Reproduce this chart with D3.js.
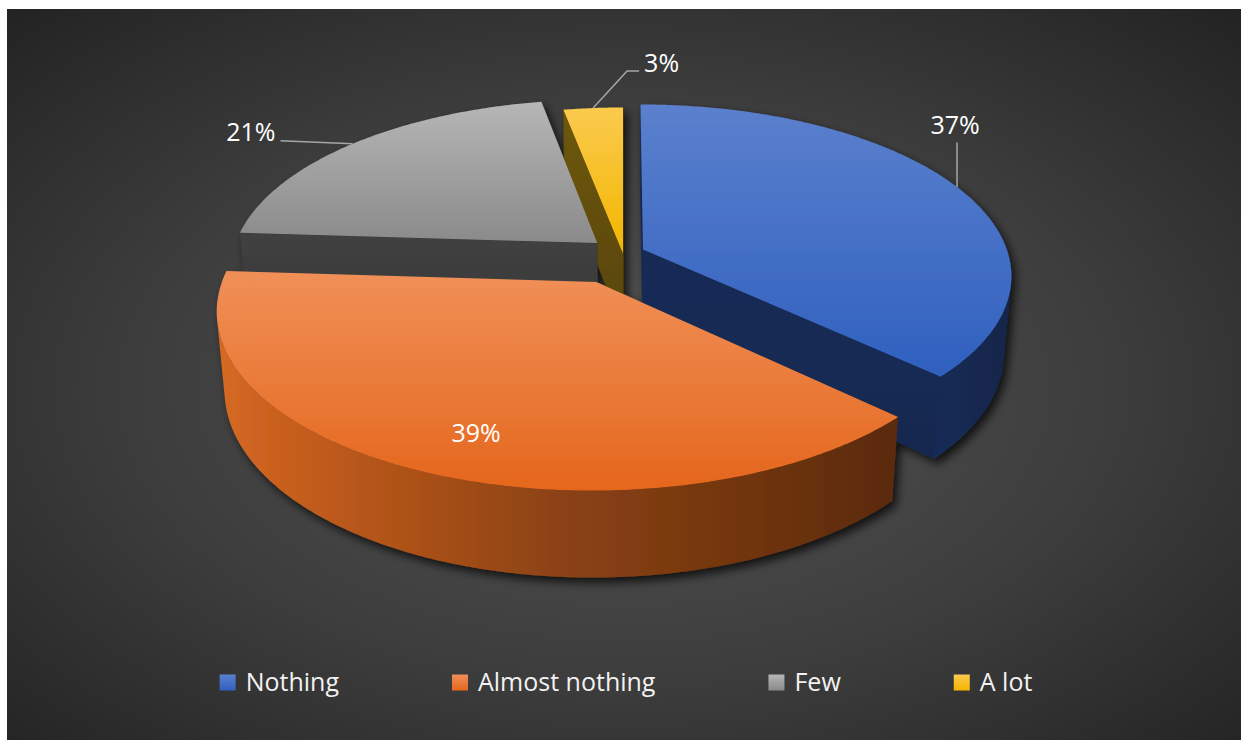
<!DOCTYPE html>
<html><head><meta charset="utf-8">
<script src="https://cdn.jsdelivr.net/npm/d3@7"></script>
<style>html,body{margin:0;padding:0;background:#fff;} svg{display:block;}</style>
</head><body>
<svg id="chart" width="1241" height="740"></svg>
<script>
// ---------- data ----------
const categories = ["Nothing", "Almost nothing", "Few", "A lot"];
const values = [37, 39, 21, 3];
const percentLabels = ["37%", "39%", "21%", "3%"];

// ---------- style ----------
const explode = {"Nothing": 0.06, "Almost nothing": 0.18, "Few": 0.095, "A lot": 0.0};
const palette = {
  "Nothing":        {topA: "#5b80cd", topB: "#2f60bf", side: ["#182c56", "#13254a"], cut: ["#182c55", "#152850"]},
  "Almost nothing": {topA: "#f09058", topB: "#e5661c", side: ["#d66a24", "#5a2a0a"], cut: ["#6a320c", "#5a2a0a"]},
  "Few":            {topA: "#b6b6b6", topB: "#8a8a8a", side: ["#4a4a4a", "#3a3a3a"], cut: ["#414141", "#383838"]},
  "A lot":          {topA: "#fbca4e", topB: "#f2b600", side: ["#6e570a", "#5a4709"], cut: ["#6e570a", "#574508"]}
};
const cam = {cx: 623, cy: 253.5, sinA: 0.46, D: 5.92, f: 2161, h: 0.24};
cam.cosA = Math.sqrt(1 - cam.sinA * cam.sinA);
const camPos = [0, cam.D * cam.sinA, -cam.D * cam.cosA];

const labelStyle = {
  "Nothing":        {r: 1,    line: [[0, 0], [0, -44.5]],            text: [-2, -53.5], anchor: "middle"},
  "Almost nothing": {r: 0.72, line: null,                             text: [2, 30],     anchor: "middle"},
  "Few":            {r: 1,    line: [[0, 0], [-72, -3]],              text: [-77, -3],   anchor: "end"},
  "A lot":          {r: 1,    line: [[0, 0], [34, -37], [46, -37]],   text: [51, -36],   anchor: "start"}
};

function proj(X, Y, Z) {
  const d = cam.D + Z * cam.cosA - Y * cam.sinA;
  return [cam.cx + cam.f * X / d, cam.cy - cam.f * (Y * cam.cosA + Z * cam.sinA) / d];
}
function depth(p) { return cam.D + p[2] * cam.cosA - p[1] * cam.sinA; }
function visible(n, p) {
  return n[0] * (camPos[0] - p[0]) + n[1] * (camPos[1] - p[1]) + n[2] * (camPos[2] - p[2]) > 0;
}

const W = 1241, H = 740;
const svg = d3.select("#chart");
const defs = svg.append("defs");

// background
const bg = defs.append("radialGradient").attr("id", "bg")
  .attr("cx", "50%").attr("cy", "52%").attr("r", "72%");
bg.append("stop").attr("offset", "0").attr("stop-color", "#545454");
bg.append("stop").attr("offset", "0.55").attr("stop-color", "#3d3d3d");
bg.append("stop").attr("offset", "1").attr("stop-color", "#232323");
svg.append("rect").attr("x", 7).attr("y", 9).attr("width", W - 7).attr("height", H - 9).attr("fill", "url(#bg)");

// shadow filter
const flt = defs.append("filter").attr("id", "shadow")
  .attr("x", "-10%").attr("y", "-10%").attr("width", "125%").attr("height", "130%");
flt.append("feDropShadow").attr("dx", 4).attr("dy", 5).attr("stdDeviation", 5)
  .attr("flood-color", "#000").attr("flood-opacity", 0.75);

const color = d3.scaleOrdinal().domain(categories).range(categories.map(c => palette[c]));

categories.forEach((c, i) => {
  const p = color(c);
  const g = defs.append("linearGradient").attr("id", "top" + i).attr("x1", 0).attr("y1", 0).attr("x2", 0).attr("y2", 1);
  g.append("stop").attr("offset", 0).attr("stop-color", p.topA);
  g.append("stop").attr("offset", 1).attr("stop-color", p.topB);
  const s = defs.append("linearGradient").attr("id", "side" + i).attr("x1", 0).attr("y1", 0).attr("x2", 1).attr("y2", 0);
  s.append("stop").attr("offset", 0).attr("stop-color", p.side[0]);
  if (c === "Almost nothing") {
    s.append("stop").attr("offset", 0.12).attr("stop-color", "#c45d1c");
    s.append("stop").attr("offset", 0.5).attr("stop-color", "#8c4214");
  }
  s.append("stop").attr("offset", 1).attr("stop-color", p.side[1]);
  const k = defs.append("linearGradient").attr("id", "cut" + i).attr("x1", 0).attr("y1", 0).attr("x2", 0).attr("y2", 1);
  k.append("stop").attr("offset", 0).attr("stop-color", p.cut[0]);
  k.append("stop").attr("offset", 1).attr("stop-color", p.cut[1]);
});

// ---------- pie geometry ----------
const pieGen = d3.pie().sort(null).value(d => d.value).startAngle(0).endAngle(2 * Math.PI);
const data = categories.map((c, i) => ({cat: c, idx: i, value: values[i], label: percentLabels[i]}));
const arcs = pieGen(data);

const faces = [], tops = [], anchors = [];
const h = cam.h;
arcs.forEach(a => {
  const e = explode[a.data.cat];
  const mid = (a.startAngle + a.endAngle) / 2;
  const ox = e * Math.sin(mid), oz = e * Math.cos(mid);
  const P = (t, r, y) => [ox + r * Math.sin(t), y, oz + r * Math.cos(t)];
  const n = Math.max(2, Math.ceil((a.endAngle - a.startAngle) / (Math.PI / 360)));
  const ts = d3.range(n + 1).map(i => a.startAngle + (a.endAngle - a.startAngle) * i / n);
  const apexT = [ox, 0, oz], apexB = [ox, -h, oz];

  tops.push({a, pts: [proj(...apexT), ...ts.map(t => proj(...P(t, 1, 0)))]});

  // outer side (visible runs)
  let run = [];
  const flush = () => {
    if (!run.length) return;
    const i0 = run[0], i1 = run[run.length - 1] + 1;
    const sub = ts.slice(i0, i1 + 1);
    const pts = sub.map(t => proj(...P(t, 1, 0))).concat(sub.slice().reverse().map(t => proj(...P(t, 1, -h))));
    const tm = (sub[0] + sub[sub.length - 1]) / 2;
    faces.push({a, kind: "side", pts, depth: depth(P(tm, 1, -h / 2))});
    run = [];
  };
  for (let i = 0; i < n; i++) {
    const tm = (ts[i] + ts[i + 1]) / 2;
    if (visible([Math.sin(tm), 0, Math.cos(tm)], P(tm, 1, -h / 2))) run.push(i); else flush();
  }
  flush();

  // cut faces
  [[a.startAngle, -1], [a.endAngle, 1]].forEach(([t, s]) => {
    const nrm = [s * Math.cos(t), 0, -s * Math.sin(t)];
    const pm = P(t, 0.5, -h / 2);
    if (visible(nrm, pm)) {
      faces.push({a, kind: "cut", pts: [proj(...apexT), proj(...P(t, 1, 0)), proj(...P(t, 1, -h)), proj(...apexB)], depth: depth(pm)});
    }
  });

  const ls = labelStyle[a.data.cat];
  anchors.push({a, pt: proj(...P(mid, ls.r, 0)), ls});
});

faces.sort((u, v) => v.depth - u.depth);

const pieG = svg.append("g").attr("filter", "url(#shadow)");
const line = d3.line();
pieG.selectAll("path.face").data(faces).join("path")
  .attr("class", "face")
  .attr("d", d => line(d.pts) + "Z")
  .attr("fill", d => d.kind === "side" ? `url(#side${d.a.data.idx})` : `url(#cut${d.a.data.idx})`)
  .attr("stroke", d => d.kind === "side" ? "none" : color(d.a.data.cat).cut[1])
  .attr("stroke-width", 0.5);
pieG.selectAll("path.top").data(tops).join("path")
  .attr("class", "top")
  .attr("d", d => line(d.pts) + "Z")
  .attr("fill", d => `url(#top${d.a.data.idx})`);

// ---------- labels ----------
const labG = svg.append("g");
anchors.forEach(({a, pt, ls}) => {
  if (ls.line) {
    labG.append("path")
      .attr("d", line(ls.line.map(([dx, dy]) => [pt[0] + dx, pt[1] + dy])))
      .attr("fill", "none").attr("stroke", "#a6a6a6").attr("stroke-width", 1.5);
  }
  labG.append("text")
    .attr("x", pt[0] + ls.text[0]).attr("y", pt[1] + ls.text[1])
    .attr("text-anchor", ls.anchor)
    .attr("font-family", "'Open Sans', sans-serif").attr("font-size", 25)
    .attr("fill", "#ffffff")
    .text(a.data.label);
});

// ---------- legend ----------
const legG = svg.append("g");
const items = legG.selectAll("g").data(categories).join("g");
items.append("rect").attr("width", 16).attr("height", 16).attr("y", 674.5)
  .attr("fill", (d, i) => `url(#top${i})`);
items.append("text").attr("y", 691).attr("x", 26)
  .attr("font-family", "'Open Sans', sans-serif").attr("font-size", 25)
  .attr("fill", "#f2f2f2").text(d => d);
const widths = [];
items.each(function () { widths.push(26 + d3.select(this).select("text").node().getComputedTextLength()); });
const gap = 113;
const total = d3.sum(widths) + gap * (widths.length - 1);
let x = 626 - total / 2;
items.each(function (d, i) {
  d3.select(this).attr("transform", `translate(${x},0)`);
  x += widths[i] + gap;
});
</script>
</body></html>
